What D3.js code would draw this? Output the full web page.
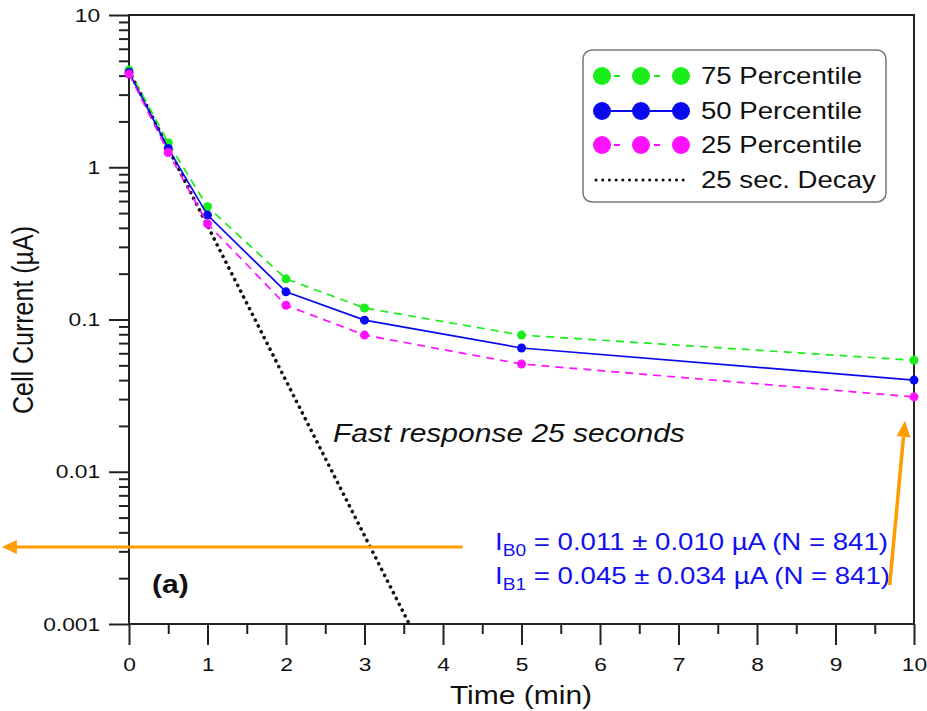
<!DOCTYPE html>
<html lang="en">
<head>
    <meta charset="utf-8">
    <script src="https://d3js.org/d3.v7.min.js"></script>
    <style>
        body { margin: 0; background: #fff; }
        svg { font-family: "Liberation Sans", Arial, sans-serif; }
    </style>
</head>
<body>
<script>
    // data
    var times = [0, 0.5, 1, 2, 3, 5, 10];
    var p75 = [4.35, 1.45, 0.55, 0.185, 0.119, 0.079, 0.054];
    var p50 = [4.2, 1.33, 0.485, 0.152, 0.099, 0.065, 0.040];
    var p25 = [4.1, 1.25, 0.425, 0.124, 0.079, 0.051, 0.031];
    var decayTimes = [0, 3.57];
    var decayValues = [4.3, 0.001];

    var xTicks = [0, 1, 2, 3, 4, 5, 6, 7, 8, 9, 10];
    var yTicks = [0.001, 0.01, 0.1, 1, 10];
    var yTickLabels = ["0.001", "0.01", "0.1", "1", "10"];

    var width = 927, height = 711;
    var stretch = 1.2; // reference text is drawn a bit wide

    var svg = d3.select('body').append('svg').attr('width', width).attr('height', height);

    var x = d3.scaleLinear().domain([0, 10]).range([129, 914]);
    var y = d3.scaleLog().domain([0.001, 10]).range([624, 15]);

    var axisColor = '#222';

    // minor ticks
    var yMinor = [];
    yTicks.slice(0, -1).forEach(function(d) {
        for (var k = 2; k <= 9; k++) yMinor.push(d * k);
    });
    var xMinor = d3.range(0.5, 10, 1);

    svg.append('g').attr('transform', 'translate(' + x(0) + ',0)')
        .call(d3.axisLeft(y).tickValues(yMinor).tickSize(10).tickSizeOuter(0).tickFormat(''))
        .call(function(g) { g.select('.domain').remove(); g.selectAll('line').attr('stroke', axisColor).attr('stroke-width', 2); });

    svg.append('g').attr('transform', 'translate(0,' + y(0.001) + ')')
        .call(d3.axisBottom(x).tickValues(xMinor).tickSize(10).tickSizeOuter(0).tickFormat(''))
        .call(function(g) { g.select('.domain').remove(); g.selectAll('line').attr('stroke', axisColor).attr('stroke-width', 2); });

    // major ticks + labels
    svg.append('g').attr('transform', 'translate(' + x(0) + ',0)')
        .call(d3.axisLeft(y).tickValues(yTicks).tickSize(20).tickPadding(4).tickSizeOuter(0)
            .tickFormat(function(d, i) { return yTickLabels[i]; }))
        .call(function(g) {
            g.select('.domain').remove();
            g.selectAll('line').attr('stroke', axisColor).attr('stroke-width', 2);
            g.selectAll('text').attr('font-size', 19).attr('fill', '#111')
                .attr('font-family', '"Liberation Sans", Arial, sans-serif')
                .attr('transform', 'scale(' + stretch + ',1)');
        });

    svg.append('g').attr('transform', 'translate(0,' + y(0.001) + ')')
        .call(d3.axisBottom(x).tickValues(xTicks).tickSize(21).tickPadding(13).tickSizeOuter(0))
        .call(function(g) {
            g.select('.domain').remove();
            g.selectAll('line').attr('stroke', axisColor).attr('stroke-width', 2);
            g.selectAll('text').attr('font-size', 19).attr('fill', '#111')
                .attr('font-family', '"Liberation Sans", Arial, sans-serif')
                .attr('transform', 'scale(' + stretch + ',1)');
        });

    // frame
    svg.append('rect')
        .attr('x', x(0)).attr('y', y(10))
        .attr('width', x(10) - x(0)).attr('height', y(0.001) - y(10))
        .attr('fill', 'none').attr('stroke', axisColor).attr('stroke-width', 2);

    // axis titles
    svg.append('text')
        .attr('transform', 'translate(33,320) scale(' + stretch + ',1) rotate(-90)')
        .attr('text-anchor', 'middle').attr('font-size', 25).attr('fill', '#111')
        .text('Cell Current (µA)');
    svg.append('text')
        .attr('transform', 'translate(521,704) scale(' + stretch + ',1)')
        .attr('text-anchor', 'middle').attr('font-size', 25).attr('fill', '#111')
        .text('Time (min)');

    var line = d3.line().x(function(d) { return x(d[0]); }).y(function(d) { return y(d[1]); });

    // 25 sec decay
    svg.append('path')
        .datum(d3.zip(decayTimes, decayValues))
        .attr('d', line)
        .attr('fill', 'none').attr('stroke', '#111').attr('stroke-width', 3.6)
        .attr('stroke-linecap', 'round').attr('stroke-dasharray', '0.1,6.4');

    var series = [
        { name: '75 Percentile', values: p75, color: '#1aee1a', dash: '8,6' },
        { name: '50 Percentile', values: p50, color: '#0a0aee', dash: null },
        { name: '25 Percentile', values: p25, color: '#ff10ff', dash: '8,6' }
    ];

    series.forEach(function(s) {
        var pts = d3.zip(times, s.values);
        svg.append('path').datum(pts).attr('d', line)
            .attr('fill', 'none').attr('stroke', s.color).attr('stroke-width', 1.7)
            .attr('stroke-dasharray', s.dash);
        svg.append('g').selectAll('circle').data(pts).join('circle')
            .attr('cx', function(d) { return x(d[0]); })
            .attr('cy', function(d) { return y(d[1]); })
            .attr('r', 4.5).attr('fill', s.color);
    });

    // legend
    var legend = svg.append('g');
    legend.append('rect').attr('x', 583).attr('y', 50).attr('width', 303).attr('height', 152)
        .attr('rx', 9).attr('fill', '#fff').attr('stroke', '#777').attr('stroke-width', 1.5);
    var rowY = [76, 111, 145, 180];
    series.forEach(function(s, i) {
        legend.append('line').attr('x1', 602).attr('x2', 681).attr('y1', rowY[i]).attr('y2', rowY[i])
            .attr('stroke', s.color).attr('stroke-width', 2)
            .attr('stroke-dasharray', s.dash ? '0,12,6,22' : null);
        [602, 641, 681].forEach(function(cx) {
            legend.append('circle').attr('cx', cx).attr('cy', rowY[i]).attr('r', 9).attr('fill', s.color);
        });
        legend.append('text').attr('transform', 'translate(701,' + (rowY[i] + 8) + ') scale(' + stretch + ',1)')
            .attr('font-size', 23).attr('fill', '#111').text(s.name);
    });
    legend.append('line').attr('x1', 596).attr('x2', 688).attr('y1', rowY[3]).attr('y2', rowY[3])
        .attr('stroke', '#111').attr('stroke-width', 3).attr('stroke-linecap', 'round')
        .attr('stroke-dasharray', '0.1,6.6');
    legend.append('text').attr('transform', 'translate(701,' + (rowY[3] + 8) + ') scale(' + stretch + ',1)')
        .attr('font-size', 23).attr('fill', '#111').text('25 sec. Decay');

    // annotations
    svg.append('text').attr('transform', 'translate(333,442) scale(' + stretch + ',1)')
        .attr('font-size', 25).attr('font-style', 'italic').attr('fill', '#111')
        .text('Fast response 25 seconds');

    svg.append('text').attr('transform', 'translate(152,593) scale(' + stretch + ',1)')
        .attr('font-size', 25).attr('font-weight', 'bold').attr('fill', '#111')
        .text('(a)');

    var baseLines = [
        { sub: 'B0', rest: ' = 0.011 ± 0.010 µA (N = 841)', y: 550 },
        { sub: 'B1', rest: ' = 0.045 ± 0.034 µA (N = 841)', y: 584 }
    ];
    baseLines.forEach(function(b) {
        var t = svg.append('text').attr('transform', 'translate(495,' + b.y + ') scale(' + stretch + ',1)')
            .attr('font-size', 23).attr('fill', '#1010f0');
        t.append('tspan').text('I');
        t.append('tspan').attr('font-size', 16).attr('dy', 6).text(b.sub);
        t.append('tspan').attr('dy', -6).text(b.rest);
    });

    // orange arrows (data units)
    var orange = '#ff9c00';
    var arrowH = { x0: 4.25, x1: -1.62, v: 0.0032 };
    var hy = y(arrowH.v);
    svg.append('line').attr('x1', x(arrowH.x0)).attr('x2', x(arrowH.x1) + 12)
        .attr('y1', hy).attr('y2', hy).attr('stroke', orange).attr('stroke-width', 3);
    svg.append('path')
        .attr('d', 'M' + x(arrowH.x1) + ',' + hy + 'l15,-7l0,14z')
        .attr('fill', orange);

    var arrowV = { t0: 9.69, v0: 0.0018, t1: 9.885, v1: 0.0216 };
    var ax0 = x(arrowV.t0), ay0 = y(arrowV.v0), ax1 = x(arrowV.t1), ay1 = y(arrowV.v1);
    var ang = Math.atan2(ay1 - ay0, ax1 - ax0);
    var hl = 16, hw = 7;
    var bx = ax1 - hl * Math.cos(ang), by = ay1 - hl * Math.sin(ang);
    svg.append('line').attr('x1', ax0).attr('y1', ay0).attr('x2', bx).attr('y2', by)
        .attr('stroke', orange).attr('stroke-width', 3.5);
    svg.append('path')
        .attr('d', 'M' + ax1 + ',' + ay1 +
            'L' + (bx + hw * Math.sin(ang)) + ',' + (by - hw * Math.cos(ang)) +
            'L' + (bx - hw * Math.sin(ang)) + ',' + (by + hw * Math.cos(ang)) + 'Z')
        .attr('fill', orange);
</script>
</body>
</html>
